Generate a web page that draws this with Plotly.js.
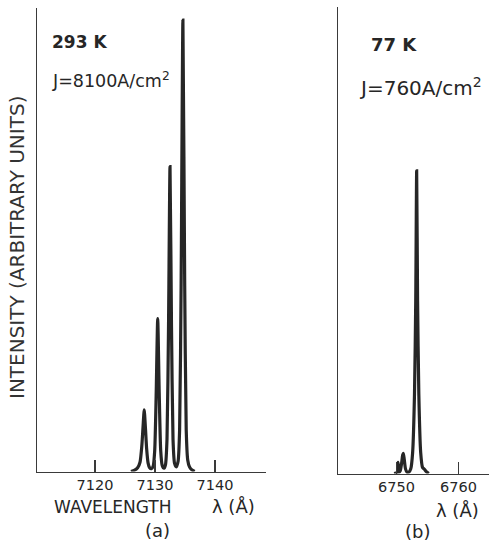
<!DOCTYPE html>
<html>
<head>
<meta charset="utf-8">
<script src="https://cdn.plot.ly/plotly-3.0.1.min.js"></script>
<style>html,body{margin:0;padding:0;background:#fff;}#chart{width:489px;height:542px;}</style>
</head>
<body>
<div id="chart"></div>
<script>
// Panel (a): 293 K, J = 8100 A/cm^2 — wavelength (Å) and intensity (arbitrary, % of axis height)
const waveA = [7126.0, 7126.6, 7127.1, 7127.5, 7127.8, 7128.0, 7128.2, 7128.4, 7128.6, 7128.85,
  7129.1, 7129.4, 7129.7, 7129.95, 7130.2, 7130.45, 7130.7, 7130.95, 7131.2, 7131.5,
  7131.75, 7132.0, 7132.25, 7132.5, 7132.75, 7133.0, 7133.25, 7133.55, 7133.85, 7134.1,
  7134.35, 7134.65, 7134.95, 7135.2, 7135.45, 7135.75, 7136.1, 7136.6];
const intensA = [0, 0.3, 0.8, 2.0, 5.5, 9.5, 13.3, 9.5, 5.0, 1.8,
  0.8, 0.6, 1.2, 4.5, 17.0, 33.0, 17.0, 4.5, 1.3, 0.7,
  1.5, 7.0, 31.0, 65.8, 31.0, 7.0, 1.8, 1.0, 2.2, 9.0,
  40.0, 97.4, 40.0, 9.0, 2.5, 1.0, 0.4, 0];

// Panel (b): 77 K, J = 760 A/cm^2
const waveB = [6749.6, 6750.1, 6750.25, 6750.4, 6750.6, 6750.8, 6751.0, 6751.1, 6751.25, 6751.45,
  6751.7, 6752.0, 6752.3, 6752.6, 6752.9, 6753.1, 6753.25, 6753.4, 6753.6, 6753.9,
  6754.2, 6754.5, 6754.8, 6755.2];
const intensB = [0, 0.2, 2.4, 0.3, 0.6, 2.0, 4.0, 4.3, 3.0, 1.0,
  0.3, 0.3, 1.0, 4.5, 17.0, 37.0, 64.9, 37.0, 17.0, 4.5,
  1.3, 0.9, 0.4, 0];

const ticksA = [7120, 7130, 7140];
const tickTextA = ["7120", "7130", "7140"];
const ticksB = [6750, 6760];
const tickTextB = ["6750", "6760"];

const W = 489, H = 542;
const px = x => x / W;
const py = y => 1 - y / H;
const FONT = "DejaVu Sans, sans-serif";
const INK = "#262626";

const traces = [
  {x: waveA, y: intensA, xaxis: "x", yaxis: "y", mode: "lines",
   line: {color: INK, width: 3.2, shape: "spline", smoothing: 0.6}, hoverinfo: "skip"},
  {x: waveB, y: intensB, xaxis: "x2", yaxis: "y2", mode: "lines",
   line: {color: INK, width: 3.2, shape: "spline", smoothing: 0.6}, hoverinfo: "skip"}
];

const axBase = {showgrid: false, zeroline: false, showline: true, linecolor: "#3a3a3a", linewidth: 1.5};

const layout = {
  width: W, height: H,
  margin: {l: 0, r: 0, t: 0, b: 0, pad: 0},
  paper_bgcolor: "#fff", plot_bgcolor: "#fff",
  showlegend: false,
  font: {family: FONT, color: INK},
  xaxis: Object.assign({}, axBase, {
    domain: [px(37), px(266)], range: [7110.33, 7148.5], anchor: "y",
    tickmode: "array", tickvals: ticksA, ticktext: tickTextA,
    ticks: "inside", ticklen: 12, tickwidth: 1.2, tickcolor: "#3a3a3a",
    tickfont: {family: FONT, size: 14.5, color: INK}
  }),
  yaxis: Object.assign({}, axBase, {
    domain: [py(471.5), py(8)], range: [0, 100], anchor: "x",
    showticklabels: false, ticks: ""
  }),
  xaxis2: Object.assign({}, axBase, {
    domain: [px(338), 1], range: [6740.56, 6764.92], anchor: "y2",
    tickmode: "array", tickvals: ticksB, ticktext: tickTextB,
    ticks: "inside", ticklen: 12, tickwidth: 1.2, tickcolor: "#3a3a3a",
    tickfont: {family: FONT, size: 14.5, color: INK}
  }),
  yaxis2: Object.assign({}, axBase, {
    domain: [py(473.5), py(7)], range: [0, 100], anchor: "x2",
    showticklabels: false, ticks: ""
  }),
  annotations: [
    {text: "INTENSITY (ARBITRARY UNITS)", textangle: -90, x: px(17), y: py(248),
     xref: "paper", yref: "paper", showarrow: false, xanchor: "center", yanchor: "middle",
     font: {family: FONT, size: 20, color: "#333"}},
    {text: "<b>293 K</b>", x: px(50), y: py(42), xref: "paper", yref: "paper", showarrow: false,
     xanchor: "left", yanchor: "middle", font: {family: FONT, size: 17, color: INK}},
    {text: "J=8100A/cm<sup>2</sup>", x: px(50), y: py(80), xref: "paper", yref: "paper", showarrow: false,
     xanchor: "left", yanchor: "middle", font: {family: FONT, size: 17.5, color: INK}},
    {text: "<b>77 K</b>", x: px(369), y: py(44), xref: "paper", yref: "paper", showarrow: false,
     xanchor: "left", yanchor: "middle", font: {family: FONT, size: 18, color: INK}},
    {text: "J=760A/cm<sup>2</sup>", x: px(357), y: py(87), xref: "paper", yref: "paper", showarrow: false,
     xanchor: "left", yanchor: "middle", font: {family: FONT, size: 20, color: INK}},
    {text: "WAVELENGTH", x: px(112), y: py(507), xref: "paper", yref: "paper", showarrow: false,
     xanchor: "center", yanchor: "middle", font: {family: FONT, size: 17, color: INK}},
    {text: "λ (Å)", x: px(233), y: py(506), xref: "paper", yref: "paper", showarrow: false,
     xanchor: "center", yanchor: "middle", font: {family: FONT, size: 18, color: INK}},
    {text: "(a)", x: px(157), y: py(530), xref: "paper", yref: "paper", showarrow: false,
     xanchor: "center", yanchor: "middle", font: {family: FONT, size: 18, color: INK}},
    {text: "λ (Å)", x: px(457), y: py(510), xref: "paper", yref: "paper", showarrow: false,
     xanchor: "center", yanchor: "middle", font: {family: FONT, size: 18, color: INK}},
    {text: "(b)", x: px(417), y: py(531), xref: "paper", yref: "paper", showarrow: false,
     xanchor: "center", yanchor: "middle", font: {family: FONT, size: 18, color: INK}}
  ]
};

Plotly.newPlot("chart", traces, layout, {staticPlot: true, displayModeBar: false});
</script>
</body>
</html>
